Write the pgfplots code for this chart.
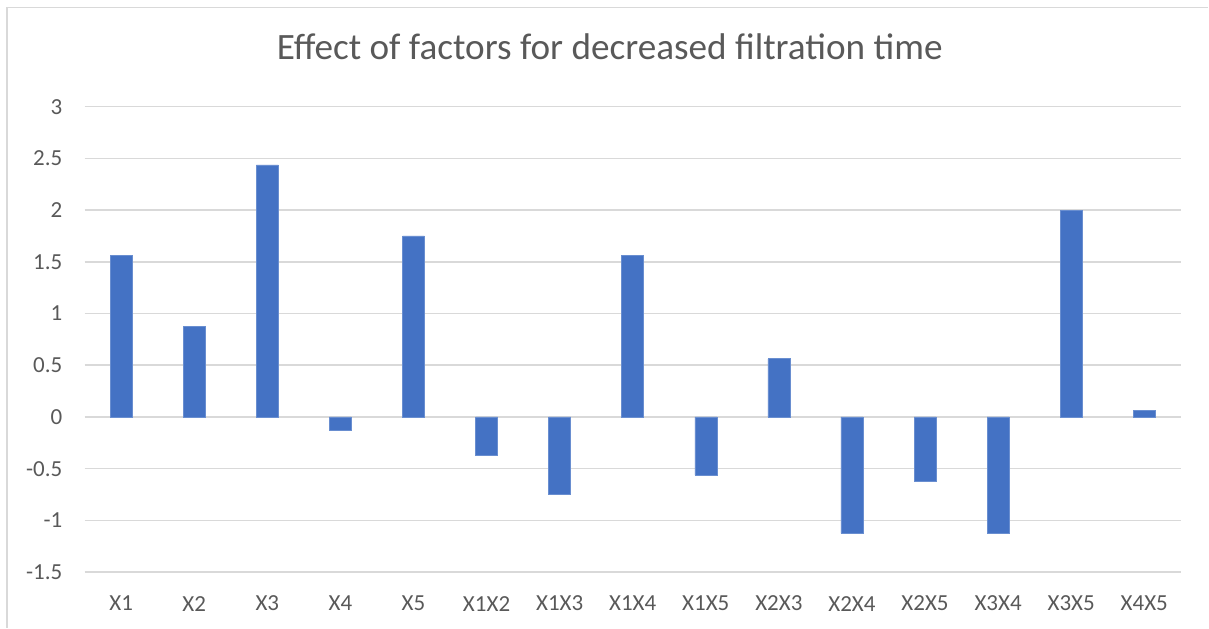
\documentclass[border=0pt]{standalone}
\usepackage{pgfplots}
\pgfplotsset{compat=1.18}
\usepackage{fontspec}
\setmainfont{Carlito}
\definecolor{barblue}{HTML}{4472C4}
\definecolor{gridgray}{HTML}{D9D9D9}
\definecolor{labelgray}{HTML}{595959}

\begin{document}
\begin{tikzpicture}
% page bounds and chart frame
\path (0,0) rectangle (604.5pt,314pt);
\draw[gridgray, line width=0.9pt] (3.5pt,0pt) -- (3.5pt,310.25pt) -- (604.5pt,310.25pt);
\begin{axis}[
  at={(42.35pt,27.75pt)}, anchor=south west,
  scale only axis,
  width=548.5pt, height=232.9pt,
  ybar, bar width=11pt, bar shift=0pt,
  xmin=-0.5, xmax=14.5,
  ymin=-1.5, ymax=3,
  xtick={0,...,14},
  xticklabels={X1,X2,X3,X4,X5,X1X2,X1X3,X1X4,X1X5,X2X3,X2X4,X2X5,X3X4,X3X5,X4X5},
  ytick={-1.5,-1,-0.5,0,0.5,1,1.5,2,2.5,3},
  /pgf/number format/assume math mode=true,
  axis line style={draw=none},
  major tick length=0pt,
  ymajorgrids,
  grid style={gridgray, line width=0.75pt},
  tick label style={font=\fontsize{11.5}{13}\selectfont, text=labelgray},
  xticklabel style={inner sep=0pt, anchor=center, yshift=-15.75pt},
  yticklabel style={inner sep=0pt, anchor=east, xshift=-11pt},
  every axis title shift=0pt,
  title={Effect of factors for decreased filtration time},
  title style={font=\fontsize{18.6}{22}\selectfont, text=labelgray, anchor=center,
    inner sep=0pt, at={(axis description cs:0.479,1.128)}},
  clip=false,
]
\addplot[fill=barblue, draw=barblue!80!white, line width=0.3pt] coordinates {
  (0,1.5625) (1,0.875) (2,2.4375) (3,-0.125) (4,1.75)
  (5,-0.375) (6,-0.75) (7,1.5625) (8,-0.5625) (9,0.5625)
  (10,-1.125) (11,-0.625) (12,-1.125) (13,2.0) (14,0.0625)
};
\end{axis}
\end{tikzpicture}
\end{document}
